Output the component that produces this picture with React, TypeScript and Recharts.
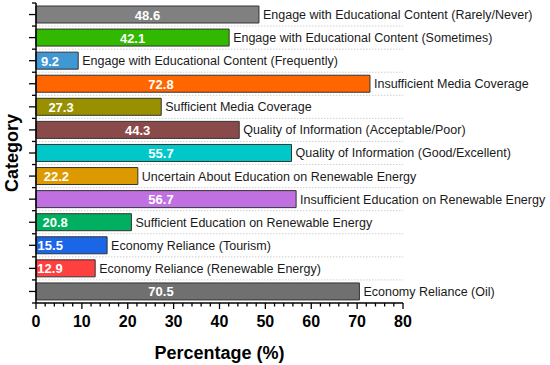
import { BarChart, Bar, XAxis, YAxis, CartesianGrid, Cell, LabelList, Label } from "recharts";

const categories = [
  "Engage with Educational Content (Rarely/Never)",
  "Engage with Educational Content (Sometimes)",
  "Engage with Educational Content (Frequently)",
  "Insufficient Media Coverage",
  "Sufficient Media Coverage",
  "Quality of Information (Acceptable/Poor)",
  "Quality of Information (Good/Excellent)",
  "Uncertain About Education on Renewable Energy",
  "Insufficient Education on Renewable Energy",
  "Sufficient Education on Renewable Energy",
  "Economy Reliance (Tourism)",
  "Economy Reliance (Renewable Energy)",
  "Economy Reliance (Oil)",
];

const percentages = [48.6, 42.1, 9.2, 72.8, 27.3, 44.3, 55.7, 22.2, 56.7, 20.8, 15.5, 12.9, 70.5];

const barColors = [
  "#808080", "#33b800", "#3f98d4", "#ff6600", "#999000", "#8b4a4a", "#00c8c8",
  "#dd9a00", "#c070e0", "#00b060", "#1a66e6", "#ff4040", "#707070",
];

const xTicks = [0, 2, 4, 6, 8, 10, 12, 14, 16, 18, 20, 22, 24, 26, 28, 30, 32, 34, 36, 38, 40,
  42, 44, 46, 48, 50, 52, 54, 56, 58, 60, 62, 64, 66, 68, 70, 72, 74, 76, 78, 80];

const data = categories.map((name, i) => ({ name, value: percentages[i], color: barColors[i] }));

const FONT = "'Liberation Sans', Arial, sans-serif";
const W = 550;
const H = 365;
const MARGIN = { top: 3, right: 147, bottom: 0, left: 0 };
const X_AXIS_H = 62;
const BAND = (H - MARGIN.top - MARGIN.bottom - X_AXIS_H) / categories.length;

function XTick({ x, y, payload }: any) {
  const major = payload.value % 10 === 0;
  return (
    <g>
      <line x1={x} x2={x} y1={y} y2={y + (major ? 6 : 3.5)} stroke="#000" strokeWidth={1.3} />
      {major && (
        <text x={x} y={y + 24} textAnchor="middle" fontFamily={FONT} fontWeight="bold" fontSize={16} fill="#000">
          {payload.value}
        </text>
      )}
    </g>
  );
}

function YTick({ x, y, index }: any) {
  return (
    <g>
      <line x1={x - 7} x2={x} y1={y} y2={y} stroke="#000" strokeWidth={1.3} />
      <line x1={x - 4} x2={x} y1={y + BAND / 2} y2={y + BAND / 2} stroke="#000" strokeWidth={1.3} />
      {index === 0 && <line x1={x - 4} x2={x} y1={y - BAND / 2} y2={y - BAND / 2} stroke="#000" strokeWidth={1.3} />}
    </g>
  );
}

function ValueLabel({ x, y, width, height, value }: any) {
  const off = width < 140 ? Math.max(14, width * 0.2) : Math.min(width * 0.5, 125);
  return (
    <text x={x + off} y={y + height / 2 + 5} textAnchor="middle" fontFamily={FONT} fontWeight="bold" fontSize={13} fill="#fff">
      {value}
    </text>
  );
}

function NameLabel({ x, y, width, height, value }: any) {
  return (
    <text x={x + width + 4} y={y + height / 2 + 4.5} textAnchor="start" fontFamily={FONT} fontSize={12.5} fill="#1a1a1a">
      {value}
    </text>
  );
}

export default function App() {
  return (
    <div style={{ position: "absolute", left: 0, top: 0, width: W, height: H, background: "#fff" }}>
      <BarChart width={W} height={H} data={data} layout="vertical" margin={MARGIN}>
        <CartesianGrid
          vertical={false}
          stroke="#cfcfcf"
          strokeDasharray="1.5 1.5"
          horizontalCoordinatesGenerator={({ offset }: any) =>
            categories.slice(1).map((_, i) => offset.top + (i + 1) * (offset.height / categories.length))
          }
        />
        <XAxis
          type="number"
          domain={[0, 80]}
          ticks={xTicks}
          interval={0}
          height={X_AXIS_H}
          tickLine={false}
          tickSize={0}
          tickMargin={0}
          axisLine={{ stroke: "#000", strokeWidth: 1.5 }}
          tick={<XTick />}
        >
          <Label
            value="Percentage (%)"
            position="insideBottom"
            offset={6}
            style={{ fontFamily: FONT, fontWeight: "bold", fontSize: 18, fill: "#000" }}
          />
        </XAxis>
        <YAxis
          type="category"
          dataKey="name"
          width={36}
          tickLine={false}
          tickSize={0}
          tickMargin={0}
          interval={0}
          axisLine={{ stroke: "#000", strokeWidth: 1.5 }}
          tick={<YTick />}
        >
          <Label
            value="Category"
            angle={-90}
            position="insideLeft"
            offset={12}
            style={{ fontFamily: FONT, fontWeight: "bold", fontSize: 18, fill: "#000", textAnchor: "middle" }}
          />
        </YAxis>
        <Bar dataKey="value" barSize={17} stroke="#333" strokeWidth={1} isAnimationActive={false}>
          {data.map((d) => (
            <Cell key={d.name} fill={d.color} />
          ))}
          <LabelList dataKey="value" content={<ValueLabel />} />
          <LabelList dataKey="name" content={<NameLabel />} />
        </Bar>
      </BarChart>
    </div>
  );
}
